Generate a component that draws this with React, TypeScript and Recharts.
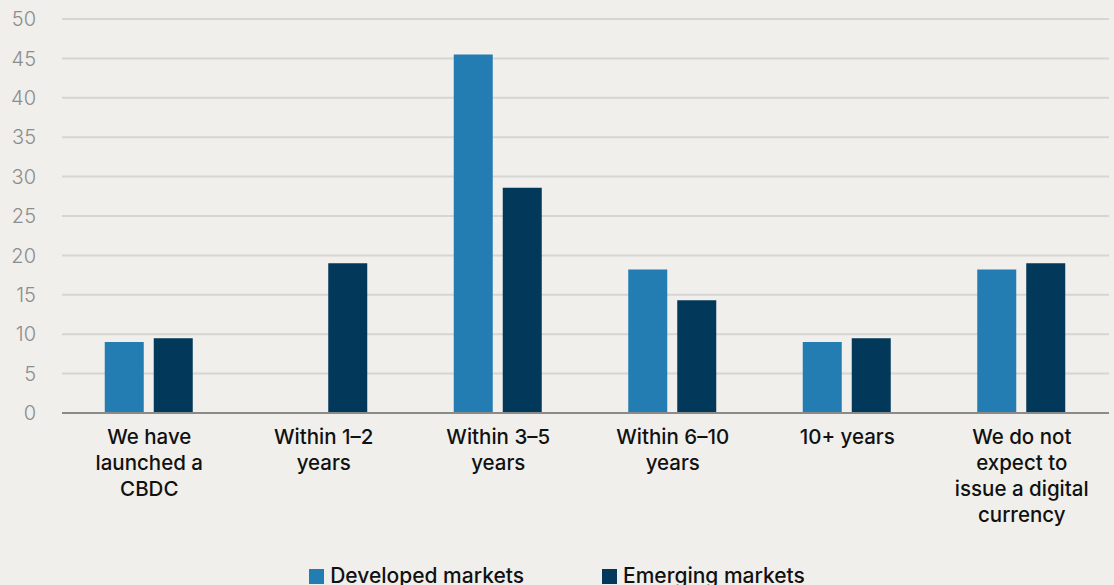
import React from 'react';
import { BarChart, Bar, XAxis, YAxis, CartesianGrid, Legend, ReferenceLine } from 'recharts';

const categories = [
  'We have launched a CBDC',
  'Within 1–2 years',
  'Within 3–5 years',
  'Within 6–10 years',
  '10+ years',
  'We do not expect to issue a digital currency',
];

// line breaks as they appear under the axis
const categoryLines = [
  ['We have', 'launched a', 'CBDC'],
  ['Within 1–2', 'years'],
  ['Within 3–5', 'years'],
  ['Within 6–10', 'years'],
  ['10+ years'],
  ['We do not', 'expect to', 'issue a digital', 'currency'],
];

const developed = [9.0, 0, 45.5, 18.2, 9.0, 18.2];
const emerging = [9.5, 19.0, 28.6, 14.3, 9.5, 19.0];

const yTicks = [0, 5, 10, 15, 20, 25, 30, 35, 40, 45, 50];

const seriesNames = ['Developed markets', 'Emerging markets'];
const seriesColors = ['#237cb2', '#02395a'];

const data = categories.map((name, i) => ({
  name,
  idx: i,
  developed: developed[i],
  emerging: emerging[i],
}));

const FONT = 'Inter, "Noto Sans", sans-serif';

const CategoryTick: React.FC<any> = ({ x, y, payload }) => {
  const lines = categoryLines[payload.index] || [payload.value];
  return (
    <g transform={`translate(${x},${y})`}>
      {lines.map((line: string, i: number) => (
        <text
          key={i}
          x={0}
          y={16 + i * 26}
          dy="0.35em"
          textAnchor="middle"
          fill="#111"
          fontSize={20.5}
          fontWeight={500}
          fontFamily={FONT}
        >
          {line}
        </text>
      ))}
    </g>
  );
};

const LegendContent: React.FC = () => (
  <div style={{ display: 'flex', justifyContent: 'center', alignItems: 'center', fontFamily: FONT, fontSize: 21, fontWeight: 500, color: '#111', height: 26, lineHeight: '26px' }}>
    {seriesNames.map((n, i) => (
      <div key={n} style={{ display: 'flex', alignItems: 'center', marginLeft: i === 0 ? 0 : 78 }}>
        <span style={{ display: 'inline-block', width: 15, height: 15, background: seriesColors[i], marginRight: 6 }} />
        <span>{n}</span>
      </div>
    ))}
  </div>
);

export default function App() {
  return (
    <div style={{ width: 1114, height: 585, background: '#f0efeb', position: 'relative', overflow: 'hidden' }}>
      <style>{'body{margin:0}'}</style>
      <BarChart
        width={1114}
        height={585}
        data={data}
        margin={{ top: 19, right: 5, bottom: 0, left: 0 }}
        barCategoryGap="24.5%"
        barGap={10}
      >
        <CartesianGrid vertical={false} stroke="#d5d5d3" strokeWidth={2} />
        <XAxis
          dataKey="name"
          interval={0}
          tick={<CategoryTick />}
          tickLine={false}
          axisLine={false}
          height={172}
        />
        <YAxis
          domain={[0, 50]}
          ticks={yTicks}
          width={62}
          tickLine={false}
          axisLine={false}
          tickSize={0}
          tickMargin={26}
          tick={{ fill: '#8d8d8d', fontSize: 20, fontWeight: 300, fontFamily: FONT }}
        />
        <ReferenceLine y={0} stroke="#8a8a88" strokeWidth={2} />
        <Bar dataKey="developed" name={seriesNames[0]} fill={seriesColors[0]} isAnimationActive={false} />
        <Bar dataKey="emerging" name={seriesNames[1]} fill={seriesColors[1]} isAnimationActive={false} />
        <Legend
          verticalAlign="middle"
          align="center"
          content={<LegendContent />}
          wrapperStyle={{ top: 563, left: 0, width: 1114 }}
        />
      </BarChart>
    </div>
  );
}
